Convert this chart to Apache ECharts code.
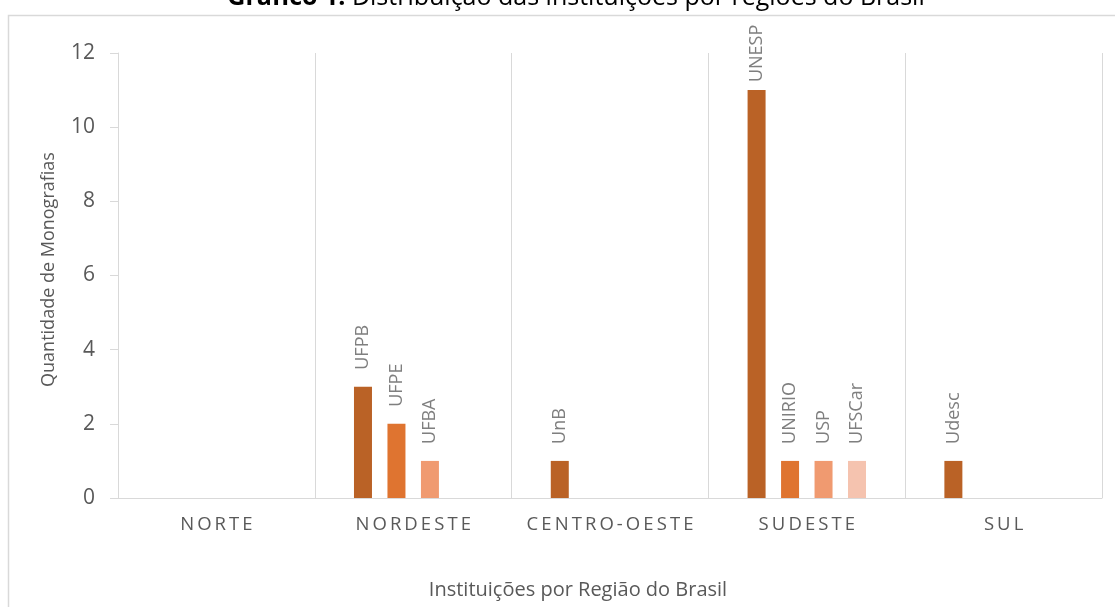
<!DOCTYPE html>
<html>
<head>
<meta charset="utf-8">
<script src="https://cdn.jsdelivr.net/npm/echarts@6/dist/echarts.min.js"></script>
<style>
  html, body {margin: 0; padding: 0; background: #fff;}
  #chart {width: 1115px; height: 607px;}
</style>
</head>
<body>
<div id="chart"></div>
<script>
var regioes = ['NORTE', 'NORDESTE', 'CENTRO-OESTE', 'SUDESTE', 'SUL'];

// one series per position inside the region group
var serie1 = [null, 3, 1, 11, 1];
var inst1  = ['', 'UFPB', 'UnB', 'UNESP', 'Udesc'];
var serie2 = [null, 2, null, 1, null];
var inst2  = ['', 'UFPE', '', 'UNIRIO', ''];
var serie3 = [null, 1, null, 1, null];
var inst3  = ['', 'UFBA', '', 'USP', ''];
var serie4 = [null, null, null, 1, null];
var inst4  = ['', '', '', 'UFSCar', ''];

var y_min = 0, y_max = 12, y_step = 2;

var FONT = "'Open Sans', sans-serif";
var cores = ['#BA6226', '#DF7430', '#F09A70', '#F5C3AF'];

var myChart = echarts.init(document.getElementById('chart'));

var espacar = function(s){
    return s.split('').join('\u2009');
};

function $map(arr, fn){
    var out = [];
    for (var k = 0; k < arr.length; k++) out.push(fn(arr[k], k));
    return out;
}

var make_series = function(valores, nomes, i){
    var data = $map(valores, function(v){
        if (v === null) return null;
        var item = {value: v};
        // tallest bar: label pushed down to stay inside the chart
        if (v > 10) item.label = {distance: 8};
        return item;
    });
    return {
        name: 'S' + (i + 1),
        type: 'bar',
        barWidth: 18,
        barGap: '86%',
        itemStyle: {color: cores[i]},
        label: {
            show: true,
            position: 'top',
            rotate: 90,
            align: 'left',
            verticalAlign: 'middle',
            distance: 17,
            color: '#7f7f7f',
            fontFamily: FONT,
            fontSize: 18,
            formatter: function(p){ return nomes[p.dataIndex]; }
        },
        data: data
    };
};

var series = [
    make_series(serie1, inst1, 0),
    make_series(serie2, inst2, 1),
    make_series(serie3, inst3, 2),
    make_series(serie4, inst4, 3)
];

var title = [{
    text: '{b|Gráfico 1:} Distribuição das instituições por regiões do Brasil',
    left: 576,
    top: -15,
    padding: 0,
    textAlign: 'center',
    textStyle: {
        fontFamily: FONT, fontSize: 25, fontWeight: 'normal', color: '#000',
        rich: {b: {fontFamily: FONT, fontSize: 25, fontWeight: 'bold', color: '#000'}}
    }
}, {
    text: 'Instituições por Região do Brasil',
    left: 578,
    top: 580,
    padding: 0,
    textAlign: 'center',
    textStyle: {fontFamily: FONT, fontSize: 20, fontWeight: 'normal', color: '#595959'}
}];

var xAxis = {
    type: 'category',
    data: regioes,
    boundaryGap: true,
    axisLine: {lineStyle: {color: '#d9d9d9', width: 1}},
    axisTick: {show: false},
    splitLine: {show: true, interval: 0, lineStyle: {color: '#d9d9d9', width: 1}},
    axisLabel: {
        interval: 0,
        margin: 17,
        color: '#595959',
        fontFamily: FONT,
        fontSize: 18.5,
        formatter: espacar
    }
};

var yAxis = {
    type: 'value',
    min: y_min,
    max: y_max,
    interval: y_step,
    name: 'Quantidade de Monografias',
    nameLocation: 'middle',
    nameGap: 60,
    nameTextStyle: {fontFamily: FONT, fontSize: 18, color: '#595959', padding: [0, 0, 0, 12]},
    axisLine: {show: true, lineStyle: {color: '#d9d9d9', width: 1}},
    axisTick: {show: true, length: 8, lineStyle: {color: '#d9d9d9'}},
    splitLine: {show: false},
    axisLabel: {margin: 23, color: '#595959', fontFamily: FONT, fontSize: 21}
};

var option = {
    backgroundColor: '#fff',
    animation: false,
    title: title,
    grid: {left: 118, right: 13, top: 53, bottom: 109, containLabel: false},
    xAxis: xAxis,
    yAxis: yAxis,
    series: series,
    graphic: [{
        type: 'rect',
        silent: true,
        shape: {x: 8.5, y: 15.5, width: 1200, height: 700},
        style: {fill: 'none', stroke: '#d9d9d9', lineWidth: 1.5}
    }]
};

myChart.setOption(option);
</script>
</body>
</html>
